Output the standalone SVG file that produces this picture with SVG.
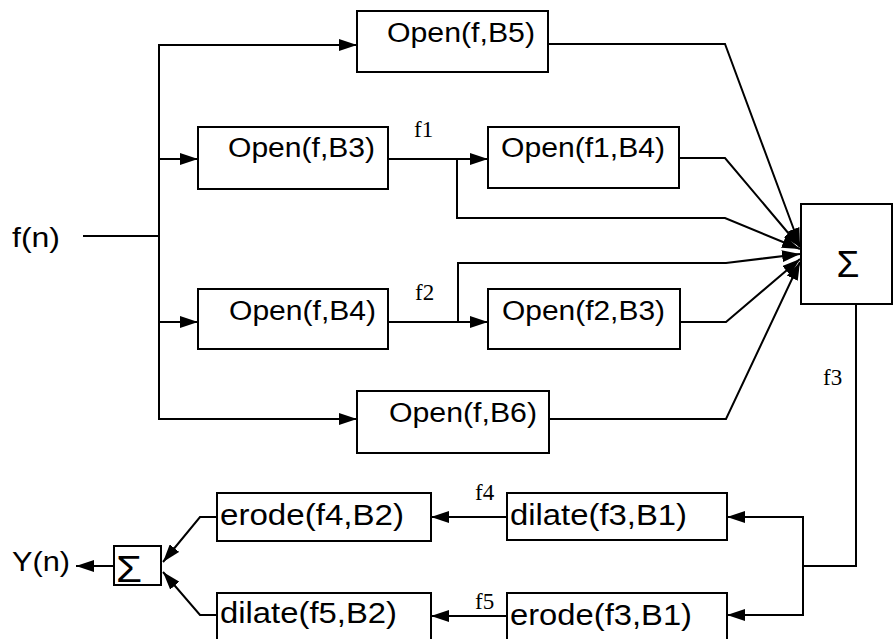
<svg xmlns="http://www.w3.org/2000/svg" width="893" height="639" viewBox="0 0 893 639">
<style>
.box{fill:#fff;stroke:#000;stroke-width:2}
.lbl{font-family:"Liberation Sans",Arial,sans-serif;font-size:27px;fill:#000}
.big{font-family:"Liberation Sans",Arial,sans-serif;font-size:29px;fill:#000}
.sig{font-family:"Liberation Sans",Arial,sans-serif;font-size:37px;fill:#000}
.sm{font-family:"Liberation Serif","Times New Roman",serif;font-size:23px;fill:#000}
.ln{fill:none;stroke:#000;stroke-width:2}
.ar{fill:none;stroke:#000;stroke-width:2;marker-end:url(#ah)}
</style>
<defs>
<marker id="ah" markerUnits="userSpaceOnUse" markerWidth="18" markerHeight="12" refX="18" refY="6" orient="auto">
<path d="M0,0 L18,6 L0,12 z" fill="#000"/>
</marker>
</defs>
<rect width="893" height="639" fill="#fff"/>
<g id="connectors">
<line class="ln" x1="83" y1="236" x2="159" y2="236"/>
<line class="ln" x1="159" y1="44" x2="159" y2="420"/>
<polyline class="ar" points="158,45 357,45"/>
<polyline class="ar" points="159,159 198,159"/>
<polyline class="ar" points="159,322 198,322"/>
<polyline class="ar" points="158,419 357,419"/>
<polyline class="ar" points="388,159 488,159"/>
<polyline class="ar" points="457,159 457,218 725,218 800,249"/>
<polyline class="ar" points="388,322 488,322"/>
<polyline class="ar" points="458,322 458,263 726,263 800,254"/>
<polyline class="ar" points="548,44 725,44 800,246"/>
<polyline class="ar" points="679,158 725,158 800,247"/>
<polyline class="ar" points="680,322 726,322 800,259"/>
<polyline class="ar" points="549,419 726,419 800,262"/>
<polyline class="ln" points="856,304 856,566 803,566"/>
<line class="ln" x1="803" y1="516" x2="803" y2="616"/>
<polyline class="ar" points="803,517 727,517"/>
<polyline class="ar" points="803,615 727,615"/>
<polyline class="ar" points="507,517 431,517"/>
<polyline class="ar" points="507,616 431,616"/>
<polyline class="ar" points="217,517 200,517 163,562"/>
<polyline class="ar" points="217,615 200,615 163,572"/>
<polyline class="ar" points="114,566 76,566"/>
</g>
<g id="labels">
<text class="lbl" x="12" y="247" textLength="48" lengthAdjust="spacingAndGlyphs">f(n)</text>
<text class="lbl" x="12" y="571" textLength="58" lengthAdjust="spacingAndGlyphs">Y(n)</text>
<text class="sm" x="414" y="137">f1</text>
<text class="sm" x="415" y="300">f2</text>
<text class="sm" x="823" y="385">f3</text>
<text class="sm" x="475" y="500">f4</text>
<text class="sm" x="475" y="609">f5</text>
</g>
<g id="open_f_B5">
<rect class="box" x="357" y="11" width="191" height="61"/>
<text class="lbl" x="387" y="42" textLength="148" lengthAdjust="spacingAndGlyphs">Open(f,B5)</text>
</g>
<g id="open_f_B3">
<rect class="box" x="198" y="127" width="190" height="62"/>
<text class="lbl" x="228" y="157" textLength="147" lengthAdjust="spacingAndGlyphs">Open(f,B3)</text>
</g>
<g id="open_f1_B4">
<rect class="box" x="488" y="127" width="191" height="61"/>
<text class="lbl" x="501" y="157" textLength="164" lengthAdjust="spacingAndGlyphs">Open(f1,B4)</text>
</g>
<g id="open_f_B4">
<rect class="box" x="198" y="289" width="190" height="60"/>
<text class="lbl" x="229" y="320" textLength="147" lengthAdjust="spacingAndGlyphs">Open(f,B4)</text>
</g>
<g id="open_f2_B3">
<rect class="box" x="488" y="289" width="192" height="60"/>
<text class="lbl" x="502" y="320" textLength="163" lengthAdjust="spacingAndGlyphs">Open(f2,B3)</text>
</g>
<g id="open_f_B6">
<rect class="box" x="357" y="391" width="192" height="62"/>
<text class="lbl" x="389" y="422" textLength="148" lengthAdjust="spacingAndGlyphs">Open(f,B6)</text>
</g>
<g id="sum1">
<rect class="box" x="801" y="204" width="91" height="100"/>
<text class="sig" x="848" y="277" text-anchor="middle">Σ</text>
</g>
<g id="dilate_f3_B1">
<rect class="box" x="507" y="493" width="220" height="47"/>
<text class="big" x="510" y="525" textLength="177" lengthAdjust="spacingAndGlyphs">dilate(f3,B1)</text>
</g>
<g id="erode_f3_B1">
<rect class="box" x="507" y="593" width="220" height="48"/>
<text class="big" x="510" y="625" textLength="182" lengthAdjust="spacingAndGlyphs">erode(f3,B1)</text>
</g>
<g id="erode_f4_B2">
<rect class="box" x="217" y="493" width="214" height="48"/>
<text class="big" x="220" y="525" textLength="184" lengthAdjust="spacingAndGlyphs">erode(f4,B2)</text>
</g>
<g id="dilate_f5_B2">
<rect class="box" x="217" y="593" width="214" height="48"/>
<text class="big" x="220" y="623" textLength="177" lengthAdjust="spacingAndGlyphs">dilate(f5,B2)</text>
</g>
<g id="sum2">
<rect class="box" x="114" y="546" width="47" height="39"/>
<text class="sig" x="116" y="582" textLength="26" lengthAdjust="spacingAndGlyphs">Σ</text>
</g>
</svg>
